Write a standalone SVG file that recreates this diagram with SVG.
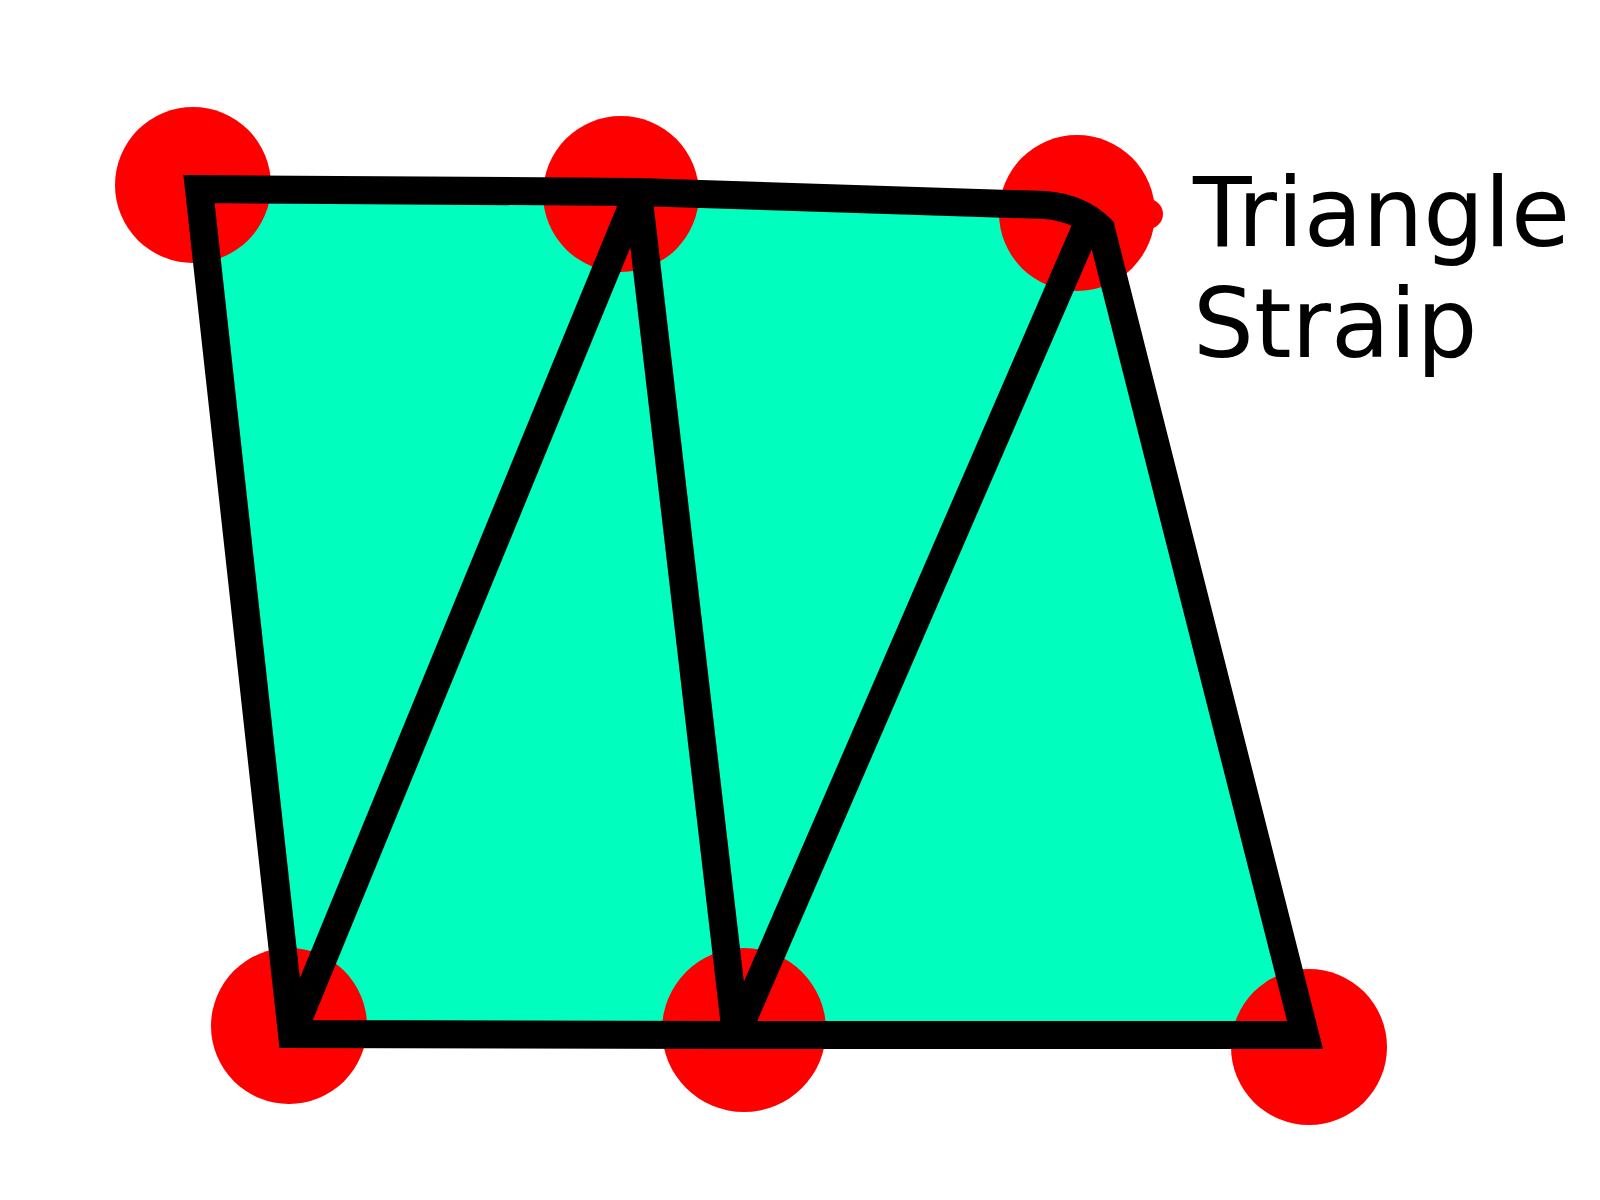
<svg xmlns="http://www.w3.org/2000/svg" width="1600" height="1200" viewBox="0 0 1600 1200">
<style>
.dot{fill:#ff0000}
.edge{fill:none;stroke:#000;stroke-width:28;stroke-linejoin:miter;stroke-miterlimit:10;stroke-linecap:butt}
.lbl{font-family:"DejaVu Sans",sans-serif;font-size:96px;fill:#000}
</style>
<rect width="1600" height="1200" fill="#fff"/>
<g id="strip-fill">
<path d="M199,189 L638,192 L1045,205 Q1080,208 1101,229 L1305,1035 L736,1035 L292,1034 Z" fill="#00ffbf"/>
</g>
<g id="v0"><circle class="dot" cx="193" cy="185" r="78"/></g>
<g id="v2"><circle class="dot" cx="621" cy="194" r="78"/></g>
<g id="v4"><circle class="dot" cx="1077" cy="213" r="78"/><circle class="dot" cx="1148" cy="214" r="15"/></g>
<g id="v1"><circle class="dot" cx="289" cy="1026" r="78"/></g>
<g id="v3"><circle class="dot" cx="744" cy="1030" r="82"/></g>
<g id="v5"><circle class="dot" cx="1309" cy="1047" r="78"/></g>
<g id="connectors">
<path class="edge" d="M199,189 L638,192 L1045,205 Q1080,208 1101,229 L1305,1035 L736,1035 L292,1034 Z"/>
<line class="edge" x1="292" y1="1034" x2="638" y2="192"/>
<line class="edge" x1="638" y1="192" x2="736" y2="1035"/>
<line class="edge" x1="736" y1="1035" x2="1087" y2="225"/>
</g>
<g id="label">
<text class="lbl" x="1193" y="246">Triangle</text>
<text class="lbl" x="1193" y="357">Straip</text>
</g>
</svg>
